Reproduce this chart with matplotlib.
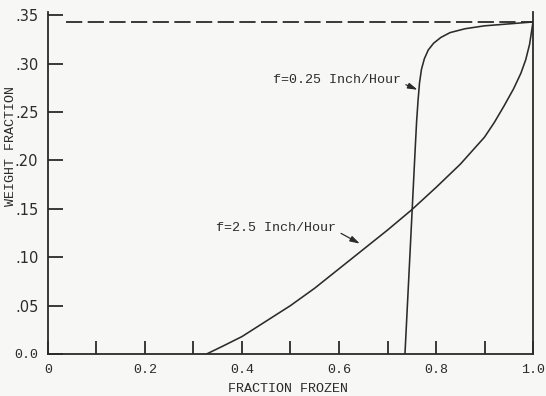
#!/usr/bin/env python3
"""Weight fraction vs fraction frozen for two freezing rates."""

import matplotlib

matplotlib.use("Agg")
import matplotlib.pyplot as plt


# f = 2.5 inch/hour
fast_frozen = [0.327, 0.36, 0.40, 0.50, 0.55, 0.60, 0.65, 0.70, 0.75, 0.80, 0.85, 0.90,
               0.92, 0.94, 0.96, 0.975, 0.985, 0.993, 1.00]
fast_weight = [0.000, 0.008, 0.018, 0.050, 0.068, 0.088, 0.108, 0.128, 0.149, 0.172, 0.196, 0.224,
               0.239, 0.256, 0.274, 0.290, 0.304, 0.320, 0.343]

# f = 0.25 inch/hour
slow_frozen = [0.736, 0.747, 0.757, 0.760, 0.763, 0.766, 0.770, 0.776, 0.784, 0.795,
               0.810, 0.829, 0.86, 0.90, 0.95, 1.00]
slow_weight = [0.000, 0.110, 0.211, 0.240, 0.262, 0.280, 0.294, 0.305, 0.314, 0.321,
               0.327, 0.332, 0.336, 0.339, 0.341, 0.343]

# equilibrium limit
limit_weight = 0.343
limit_start = 0.038

x_major = [0.0, 0.2, 0.4, 0.6, 0.8, 1.0]
x_major_labels = ["0", "0.2", "0.4", "0.6", "0.8", "1.0"]
x_minor = [0.1, 0.3, 0.5, 0.7, 0.9]
y_ticks = [0.0, 0.05, 0.10, 0.15, 0.20, 0.25, 0.30, 0.35]
y_labels = ["0.0", ".05", ".10", ".15", ".20", ".25", ".30", ".35"]

slow_label = "f=0.25 Inch/Hour"
fast_label = "f=2.5 Inch/Hour"


def main() -> None:
    mono = "Liberation Mono"
    ink = "#2b2b2b"
    paper = "#f7f7f5"

    plt.rcParams.update(
        {
            "font.family": mono,
            "font.size": 9.6,
            "text.color": ink,
            "axes.edgecolor": ink,
            "xtick.color": ink,
            "ytick.color": ink,
            "xtick.direction": "in",
            "ytick.direction": "in",
        }
    )

    fig = plt.figure(figsize=(5.46, 3.96), dpi=100, facecolor=paper)
    ax = fig.add_axes([0.0879, 0.1061, 0.8883, 0.8629])
    ax.set_facecolor(paper)

    ax.plot(fast_frozen, fast_weight, color=ink, lw=1.15, solid_capstyle="round", solid_joinstyle="round")
    ax.plot(slow_frozen, slow_weight, color=ink, lw=1.15, solid_capstyle="round", solid_joinstyle="round")
    ax.hlines(limit_weight, limit_start, 1.0, color=ink, lw=1.3, linestyles=(0, (9, 3)))

    arrow = dict(arrowstyle="-|>,head_length=0.6,head_width=0.18", color=ink, lw=0.9,
                 relpos=(1.0, 0.3), shrinkA=2, shrinkB=0)
    ax.annotate(slow_label, xy=(0.762, 0.273), xytext=(0.463, 0.283),
                ha="left", va="center", arrowprops=arrow)
    ax.annotate(fast_label, xy=(0.643, 0.114), xytext=(0.346, 0.130),
                ha="left", va="center", arrowprops=arrow)

    ax.set_xlim(0, 1.0)
    ax.set_ylim(0, 0.353)
    ax.set_xticks(x_major)
    ax.set_xticklabels(x_major_labels)
    ax.set_xticks(x_minor, minor=True)
    ax.set_yticks(y_ticks)
    ax.set_yticklabels(y_labels)
    for lab in ax.get_yticklabels()[1:]:
        lab.set_fontfamily("DejaVu Sans")
        lab.set_fontsize(10.5)

    ax.tick_params(axis="x", which="both", length=9.4, width=1.3, pad=7)
    ax.tick_params(axis="y", length=10.8, width=1.3, pad=7)
    ax.spines["top"].set_visible(False)
    for side in ("left", "bottom", "right"):
        ax.spines[side].set_linewidth(1.3)

    fig.text(11 / 546, 1 - 146 / 396, "WEIGHT FRACTION", rotation=90,
             ha="center", va="center", fontsize=9.6)
    fig.text(288 / 546, 1 - 389 / 396, "FRACTION FROZEN", ha="center", va="center", fontsize=9.6)

    fig.savefig("out.png", dpi=100, facecolor=paper)
    plt.close(fig)


if __name__ == "__main__":
    main()
